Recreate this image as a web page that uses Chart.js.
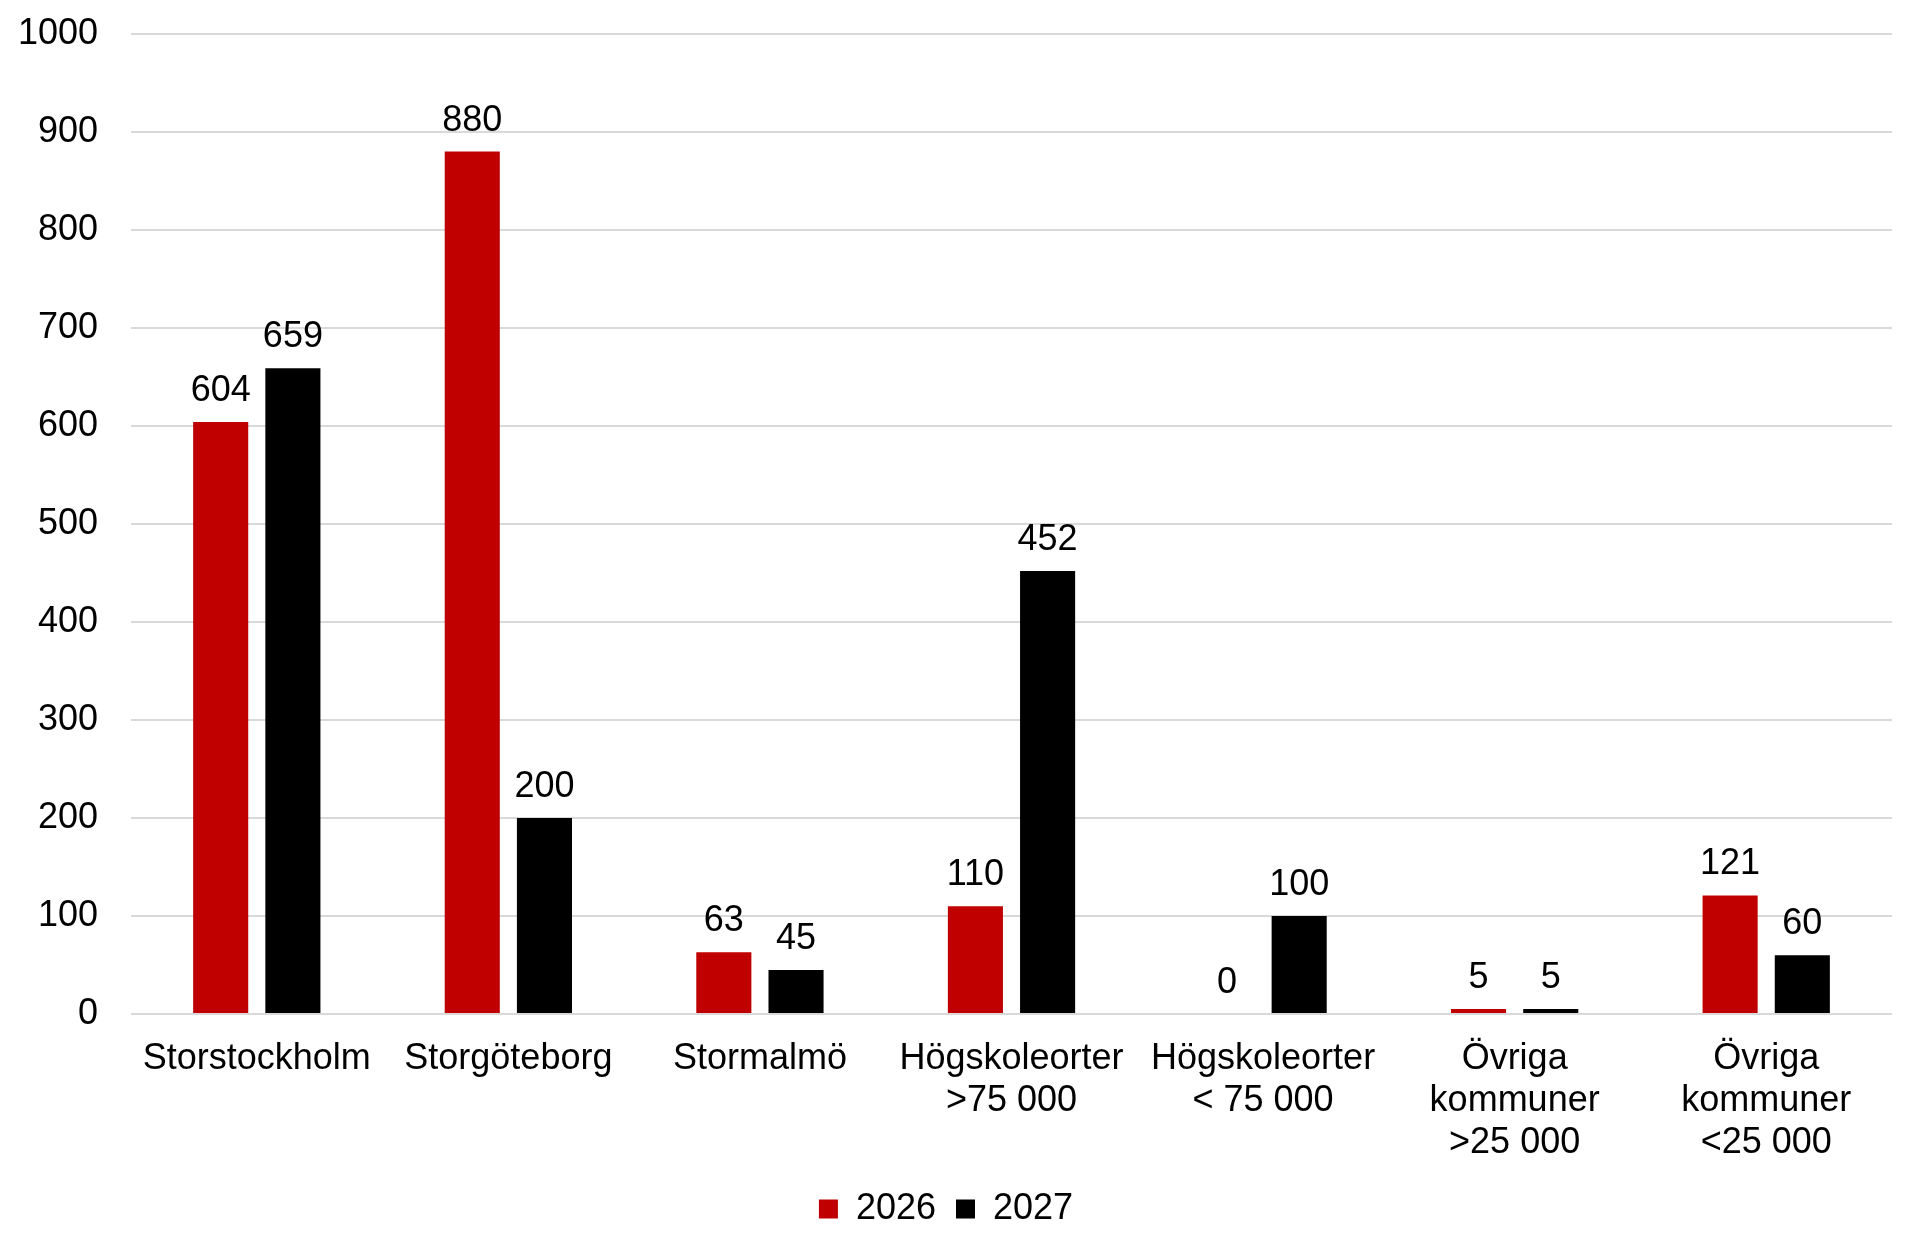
<!DOCTYPE html>
<html lang="sv">
<head>
    <meta charset="UTF-8">
    <title>2026 / 2027</title>
    <script src="https://cdn.jsdelivr.net/npm/chart.js"></script>
    <style>
        body, html {
            margin: 0;
            padding: 0;
            background: #ffffff;
        }
        #wrap {
            width: 1920px;
            height: 1250px;
        }
    </style>
</head>
<body>
    <div id="wrap"><canvas id="chart" width="1920" height="1250"></canvas></div>

    <script>
        // Data
        const categories = [
            ['Storstockholm'],
            ['Storgöteborg'],
            ['Stormalmö'],
            ['Högskoleorter', '>75 000'],
            ['Högskoleorter', '< 75 000'],
            ['Övriga', 'kommuner', '>25 000'],
            ['Övriga', 'kommuner', '<25 000']
        ];
        const seriesLabels = ['2026', '2027'];
        const values2026 = [604, 880, 63, 110, 0, 5, 121];
        const values2027 = [659, 200, 45, 452, 100, 5, 60];
        const yMin = 0;
        const yMax = 1000;
        const yStep = 100;

        const FONT = 'Arial, "Liberation Sans", sans-serif';

        // Draw the value above each bar
        const valueLabels = {
            id: 'valueLabels',
            afterDatasetsDraw(chart) {
                const ctx = chart.ctx;
                ctx.save();
                ctx.font = '36px ' + FONT;
                ctx.fillStyle = '#000000';
                ctx.textAlign = 'center';
                ctx.textBaseline = 'middle';
                chart.data.datasets.forEach((ds, i) => {
                    const meta = chart.getDatasetMeta(i);
                    meta.data.forEach((bar, j) => {
                        ctx.fillText(String(ds.data[j]), bar.x, bar.y - 31);
                    });
                });
                ctx.restore();
            }
        };

        new Chart(document.getElementById('chart'), {
            type: 'bar',
            data: {
                labels: categories,
                datasets: [{
                    label: seriesLabels[0],
                    data: values2026,
                    backgroundColor: '#c00000'
                }, {
                    label: seriesLabels[1],
                    data: values2027,
                    backgroundColor: '#000000'
                }]
            },
            options: {
                responsive: false,
                animation: false,
                categoryPercentage: 0.574,
                barPercentage: 0.763,
                layout: {
                    padding: { top: 34, right: 28, bottom: 13, left: 0 }
                },
                plugins: {
                    tooltip: { enabled: false },
                    legend: {
                        position: 'bottom',
                        labels: {
                            font: { family: FONT, size: 36 },
                            color: '#000000',
                            boxWidth: 19,
                            boxHeight: 19,
                            padding: 20
                        }
                    }
                },
                scales: {
                    x: {
                        grid: { display: false },
                        border: { display: false },
                        ticks: {
                            color: '#000000',
                            font: { family: FONT, size: 36, lineHeight: 1.167 },
                            padding: 16,
                            maxRotation: 0,
                            autoSkip: false
                        },
                        afterFit(scale) { scale.height = 157; }
                    },
                    y: {
                        min: yMin,
                        max: yMax,
                        grid: { color: '#d9d9d9', lineWidth: 2, drawTicks: false },
                        border: { display: false },
                        ticks: {
                            stepSize: yStep,
                            color: '#000000',
                            font: { family: FONT, size: 36 },
                            padding: 33,
                            callback: (v) => String(v)
                        },
                        afterFit(scale) {
                            scale.width = 131;
                            scale.paddingTop = 0;
                            scale.paddingBottom = 0;
                        }
                    }
                }
            },
            plugins: [valueLabels]
        });
    </script>
</body>
</html>
